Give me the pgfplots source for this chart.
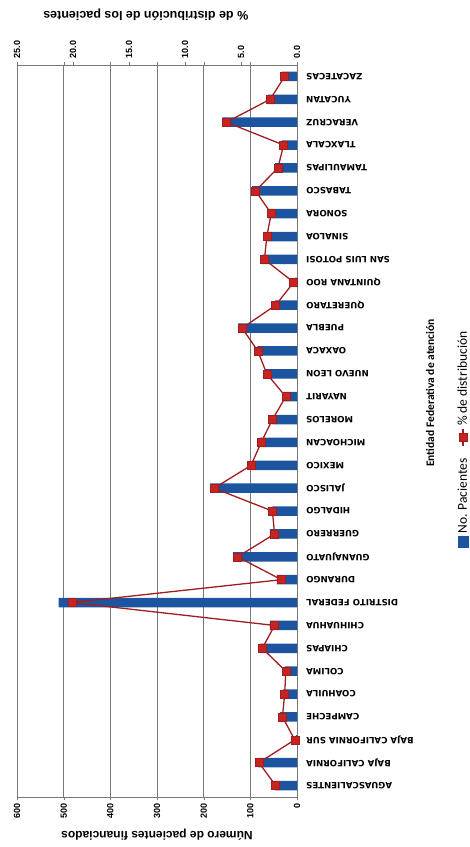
\documentclass[border=0pt]{standalone}
\usepackage{graphicx}
\usepackage{fontspec}
\setmainfont{Liberation Sans}
\newfontfamily\carlito{Carlito}
\newfontfamily\dejavu{DejaVu Sans}
\usepackage{pgfplots}
\pgfplotsset{compat=1.18}
\usepackage{pgfplotstable}
\definecolor{barblue}{RGB}{28,84,160}
\definecolor{linered}{RGB}{160,30,30}
\definecolor{markred}{RGB}{200,35,35}
\definecolor{gridgray}{RGB}{120,120,120}

\pgfplotstableread{
idx n p
0 47 1.9
1 83 3.4
2 2 0.2
3 36 1.3
4 30 1.1
5 26 1.0
6 79 3.1
7 58 2.0
8 511 20.1
9 43 1.4
10 137 5.3
11 58 2.0
12 53 2.2
13 186 7.4
14 96 4.1
15 79 3.2
16 53 2.2
17 30 1.0
18 68 2.7
19 85 3.5
20 126 4.9
21 47 1.9
22 4 0.3
23 75 2.9
24 64 2.7
25 62 2.3
26 96 3.7
27 47 1.7
28 32 1.2
29 160 6.3
30 62 2.4
31 32 1.1
}\datatable

\begin{document}
\rotatebox{90}{%
\begin{tikzpicture}
\useasboundingbox (-50pt,-173pt) rectangle (797pt,297pt);
\begin{axis}[
  at={(0pt,0pt)}, anchor=south west,
  scale only axis, width=732pt, height=280pt,
  xmin=-0.5, xmax=31.5, ymin=0, ymax=600,
  ybar, bar width=9.5pt,
  ytick={0,100,...,600},
  xtick={0,...,31},
  xticklabels={AGUASCALIENTES,BAJA CALIFORNIA,BAJA CALIFORNIA SUR,CAMPECHE,COAHUILA,COLIMA,CHIAPAS,CHIHUAHUA,DISTRITO FEDERAL,DURANGO,GUANAJUATO,GUERRERO,HIDALGO,JALISCO,MEXICO,MICHOACAN,MORELOS,NAYARIT,NUEVO LEON,OAXACA,PUEBLA,QUERETARO,QUINTANA ROO,SAN LUIS POTOSI,SINALOA,SONORA,TABASCO,TAMAULIPAS,TLAXCALA,VERACRUZ,YUCATAN,ZACATECAS},
  xticklabel shift=5pt,
  x tick label style={rotate=90, anchor=east, font=\dejavu\bfseries\fontsize{8.6}{10}\selectfont, inner sep=1pt},
  xtick style={draw=none},
  ymajorgrids, grid style={gridgray, line width=0.6pt},
  axis line style={gridgray, line width=0.6pt},
  ytick style={gridgray},
  tick align=outside, major tick length=3pt,
  y tick label style={font=\bfseries\fontsize{9}{10}\selectfont},
  /pgf/number format/assume math mode=true,
  ylabel={Número de pacientes financiados},
  ylabel style={font=\bfseries\fontsize{12}{13}\selectfont, at={(axis description cs:-0.052,0.5)}, anchor=center},
  xlabel={Entidad Federativa de atención},
  xlabel style={font=\carlito\bfseries\fontsize{11.5}{13}\selectfont, at={(axis description cs:0.552,-0.475)}, anchor=center},
]
\addplot[fill=barblue, draw=none] table[x=idx,y=n]{\datatable};
\end{axis}
\begin{axis}[
  at={(0pt,0pt)}, anchor=south west,
  scale only axis, width=732pt, height=280pt,
  xmin=-0.5, xmax=31.5, ymin=0, ymax=25,
  axis x line=none, axis y line*=right,
  axis line style={gridgray, line width=0.6pt},
  ytick={0,5,...,25},
  ytick style={gridgray},
  tick align=outside, major tick length=3pt,
  /pgf/number format/assume math mode=true,
  y tick label style={font=\bfseries\fontsize{9}{10}\selectfont, /pgf/number format/fixed, /pgf/number format/fixed zerofill, /pgf/number format/precision=1},
  ylabel={\% de distribución de los pacientes},
  ylabel style={font=\bfseries\fontsize{12.5}{13}\selectfont, at={(axis description cs:1.068,0.54)}, anchor=center},
  legend style={at={(axis description cs:0.49,-0.593)}, anchor=center, legend columns=2, draw=none, fill=none, font=\carlito\fontsize{13.5}{15}\selectfont, /tikz/every even column/.append style={column sep=10pt}},
]
\addlegendimage{legend image code/.code={\fill[barblue] (0pt,-5pt) rectangle (11pt,5pt);}}
\addlegendentry{No. Pacientes}
\addplot[linered, line width=1.3pt, mark=square*, mark size=4pt, mark options={fill=markred, draw=linered, line width=0.5pt}] table[x=idx,y=p]{\datatable};
\addlegendentry{\% de distribución}
\end{axis}
\end{tikzpicture}}
\end{document}
